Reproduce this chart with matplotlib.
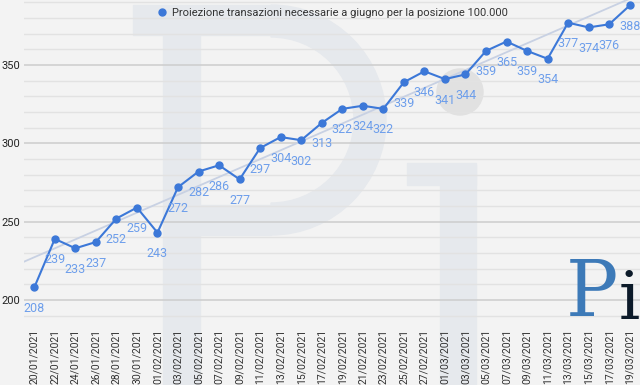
import numpy as np
import matplotlib.pyplot as plt
import matplotlib as mpl
from matplotlib.patches import Rectangle, Wedge, Circle

mpl.rcParams.update({
    "font.family": ["Roboto", "DejaVu Sans"],
    "font.size": 8,
})

# data
dates = [
    "20/01/2021", "22/01/2021", "24/01/2021", "26/01/2021", "28/01/2021",
    "30/01/2021", "01/02/2021", "03/02/2021", "05/02/2021", "07/02/2021",
    "09/02/2021", "11/02/2021", "13/02/2021", "15/02/2021", "17/02/2021",
    "19/02/2021", "21/02/2021", "23/02/2021", "25/02/2021", "27/02/2021",
    "01/03/2021", "03/03/2021", "05/03/2021", "07/03/2021", "09/03/2021",
    "11/03/2021", "13/03/2021", "15/03/2021", "17/03/2021", "19/03/2021",
]
values = [208, 239, 233, 237, 252, 259, 243, 272, 282, 286,
          277, 297, 304, 302, 313, 322, 324, 322, 339, 346,
          341, 344, 359, 365, 359, 354, 377, 374, 376, 388]
label = "Proiezione transazioni necessarie a giugno per la posizione 100.000"

bg = "#f3f3f3"
wm = "#e6e9ed"
line_c = "#3c78d8"
lab_c = "#6d9eeb"

fig = plt.figure(figsize=(6.4, 3.85), dpi=100, facecolor=bg)

# faint "Pi" watermark behind the chart (pixel coords, origin bottom-left)
H = 385
for p in [
    Rectangle((163, 0), 37, H - 35),                 # P stem
    Rectangle((133, H - 35), 138, 30),               # P top bar
    Rectangle((200, H - 235), 71, 30),               # P bowl bottom
    Wedge((271, H - 120), 115, -90, 90, width=32),   # P bowl curve
    Rectangle((440, 0), 36, H - 165),                # i stem
    Rectangle((407, H - 185), 69, 22),               # i serif
]:
    p.set_transform(mpl.transforms.IdentityTransform())
    p.set_color(wm)
    p.set_zorder(-2)
    fig.patches.append(p)
dot = Circle((460, H - 92), 23, transform=mpl.transforms.IdentityTransform(),
             color="#e1e1e1", zorder=-2)
fig.patches.append(dot)

ax = fig.add_axes([0.0375, 0.174, 0.9625, 0.826])
ax.patch.set_alpha(0)

x = np.arange(len(values))

# gridlines
ax.set_ylim(188.5, 391.5)
ax.set_xlim(-0.5, len(values) - 0.5)
ax.set_yticks([200, 250, 300, 350])
ax.set_yticks(np.arange(190, 391, 10), minor=True)
ax.grid(axis="y", which="major", color="#cfcfcf", linewidth=1.2, zorder=1)
ax.grid(axis="y", which="minor", color="#e2e2e2", linewidth=1.0, zorder=1)
ax.tick_params(axis="y", which="both", length=0, labelsize=8, colors="#222222", pad=3)

# trend line
k, b = np.polyfit(x, values, 1)
xt = np.array([-0.5, len(values) - 0.5])
ax.plot(xt, k * xt + b, color="#c8d1e3", linewidth=1.3, zorder=2)

ax.plot(x, values, color=line_c, linewidth=1.5, marker="o", markersize=5,
        zorder=3, label=label)
for xi, v in zip(x, values):
    ax.annotate(str(v), (xi, v), xytext=(0, -21), textcoords="offset pixels",
                ha="center", va="center", fontsize=9, color=lab_c, zorder=4)

ax.set_xticks(x)
ax.set_xticklabels(dates, rotation=90, fontsize=7.5, color="#333333")
ax.tick_params(axis="x", length=0, pad=8)

for s in ax.spines.values():
    s.set_visible(False)

ax.legend(loc="upper center", bbox_to_anchor=(0.5, 1.0), frameon=False,
          fontsize=8, handlelength=1, handletextpad=0.4, labelcolor="#333333",
          borderaxespad=0.3)
leg = ax.get_legend()
leg.legend_handles[0].set_linestyle("none")

# logo
fig.text(0.884, 0.138, "P", fontsize=56, color="#3d7ab8", family="DejaVu Serif",
         ha="left", va="bottom", zorder=5)
fig.text(0.966, 0.135, "i", fontsize=48, color="#0d1b2a", family="DejaVu Serif",
         ha="left", va="bottom", zorder=5)

fig.savefig("out.png", dpi=100, facecolor=bg)
